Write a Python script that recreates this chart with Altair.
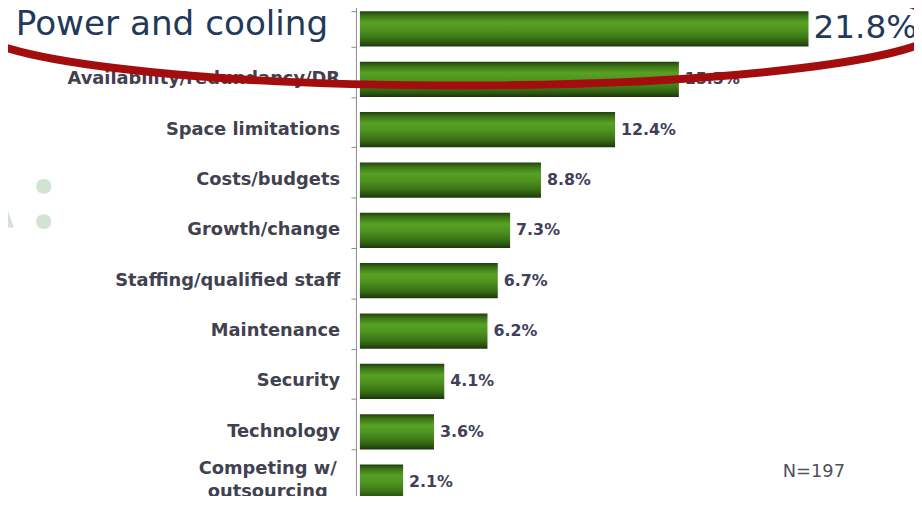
import altair as alt
import pandas as pd

# ---- data ----
categories = ["Power and cooling", "Availability/redundancy/DR", "Space limitations",
              "Costs/budgets", "Growth/change", "Staffing/qualified staff",
              "Maintenance", "Security", "Technology", "Competing w/\noutsourcing"]
values = [21.8, 15.5, 12.4, 8.8, 7.3, 6.7, 6.2, 4.1, 3.6, 2.1]
note_text = ["N=197"]
watermark_chars = ["A", ":"]

df = pd.DataFrame({"cat": categories, "val": values})
df["lbl"] = [f"{v:.1f}%" for v in values]
df["rank"] = list(range(len(categories)))

# ---- layout ----
PX_PER_PCT = 20.75
XMAX = 25
W = round(XMAX * PX_PER_PCT)
H = 488
PAD_L = 355
PAD_R = 914 - PAD_L - W

grad = alt.Gradient(
    gradient="linear", x1=0, y1=0, x2=0, y2=1,
    stops=[
        alt.GradientStop(color="#22400e", offset=0),
        alt.GradientStop(color="#3b7215", offset=0.12),
        alt.GradientStop(color="#58a124", offset=0.32),
        alt.GradientStop(color="#4e931f", offset=0.52),
        alt.GradientStop(color="#3c7517", offset=0.75),
        alt.GradientStop(color="#2a5410", offset=0.9),
        alt.GradientStop(color="#1b340a", offset=1),
    ],
)

yenc = alt.Y(
    "cat:N", sort=categories,
    scale=alt.Scale(range=[-6.4, 501.6], paddingInner=0.3, paddingOuter=0.15),
    axis=alt.Axis(labels=False, title=None, ticks=True, tickBand="extent", tickSize=5,
                  tickColor="#8c8c8c", domainColor="#8c8c8c", offset=4, grid=False),
)
yplain = alt.Y("cat:N", sort=categories)
xenc = alt.X("val:Q", scale=alt.Scale(domain=[0, XMAX]), axis=None)

base = alt.Chart(df)

wm_a = alt.Chart(pd.DataFrame({"t": [watermark_chars[0]]})).mark_text(
    align="right", baseline="alphabetic", font="Noto Sans", fontWeight="bold",
    fontSize=100, color="#d3e3d3",
).encode(x=alt.value(-349), y=alt.value(220), text="t:N")

wm_colon = alt.Chart(pd.DataFrame({"t": [watermark_chars[1]]})).mark_text(
    align="center", baseline="alphabetic", font="Noto Sans", fontWeight="bold",
    fontSize=88, color="#d3e3d3",
).encode(x=alt.value(-319), y=alt.value(220), text="t:N")

bars = base.mark_bar(color=grad).encode(x=xenc, y=yenc)

cat_labels = base.transform_filter("datum.rank > 0 && datum.rank < 9").mark_text(
    align="right", baseline="middle", font="DejaVu Sans", fontWeight="bold",
    fontSize=18, color="#41414f",
).encode(y=yplain, x=alt.value(-20), text="cat:N")

last_label = base.transform_filter("datum.rank == 9").mark_text(
    align="center", baseline="middle", font="DejaVu Sans", fontWeight="bold",
    fontSize=18, color="#41414f", lineBreak="\n", lineHeight=23, dy=-13,
).encode(y=yplain, x=alt.value(-93), text="cat:N")

top_label = base.transform_filter("datum.rank == 0").mark_text(
    align="right", baseline="alphabetic", font="DejaVu Sans", fontSize=34.5,
    color="#22395a", dy=6,
).encode(y=yplain, x=alt.value(-32), text="cat:N")

val_labels = base.transform_filter("datum.rank > 0").mark_text(
    align="left", baseline="middle", font="DejaVu Sans", fontWeight="bold",
    fontSize=16, color="#40405a", dx=6,
).encode(y=yplain, x=xenc, text="lbl:N")

top_val = base.transform_filter("datum.rank == 0").mark_text(
    align="left", baseline="alphabetic", font="DejaVu Sans", fontSize=33,
    color="#22395a", dx=5, dy=9,
).encode(y=yplain, x=xenc, text="lbl:N")

note = alt.Chart(pd.DataFrame({"t": note_text})).mark_text(
    align="center", baseline="alphabetic", font="DejaVu Sans", fontSize=18,
    color="#50505e",
).encode(x=alt.value(458), y=alt.value(471), text="t:N")

# red highlight ellipse (decoration)
RX, RY = 490.0, 60.0
b = RY / RX
k = 0.5523
ell = (f"M-1,0C-1,{-k*b:.4f} {-k:.4f},{-b:.4f} 0,{-b:.4f}"
       f"C{k:.4f},{-b:.4f} 1,{-k*b:.4f} 1,0"
       f"C1,{k*b:.4f} {k:.4f},{b:.4f} 0,{b:.4f}"
       f"C{-k:.4f},{b:.4f} -1,{k*b:.4f} -1,0Z")
ellipse = alt.Chart(pd.DataFrame({"k": [0]})).mark_point(
    shape=ell, size=(2 * RX) ** 2, filled=False, stroke="#a30d0d",
    strokeWidth=8, opacity=1,
).encode(x=alt.value(99), y=alt.value(16))

chart = alt.layer(
    wm_a, wm_colon, bars, cat_labels, last_label, top_label, val_labels, top_val,
    note, ellipse
).properties(
    width=W, height=H,
    padding={"left": PAD_L, "top": 0, "right": PAD_R, "bottom": 0},
    autosize=alt.AutoSizeParams(type="none"),
    background="white",
).configure_view(stroke=None)

chart.save("out.html", embed_options={"renderer": "svg", "actions": False})
